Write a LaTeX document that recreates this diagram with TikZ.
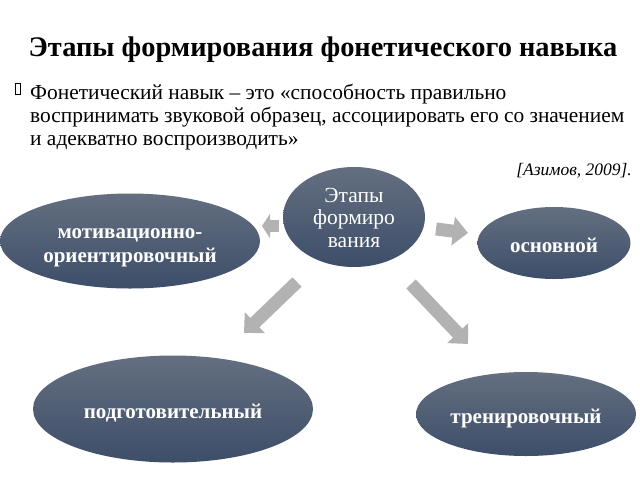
\documentclass[tikz,border=0pt]{standalone}
\usepackage{fontspec}
\setmainfont{Liberation Serif}
\usetikzlibrary{arrows.meta,shapes.geometric}
\definecolor{stTop}{HTML}{646F80}
\definecolor{stBot}{HTML}{3D4E69}
\definecolor{arrowgrey}{HTML}{B2B2B2}
\newcommand{\stagetext}[2][-5pt]{\raisebox{#1}[\height][\depth]{\begin{tabular}{@{}c@{}}#2\end{tabular}}}
\begin{document}
\begin{tikzpicture}[x=1pt,y=-1pt,
  stage/.style={ellipse, top color=stTop, bottom color=stBot, draw=none,
    text=white, font=\bfseries\fontsize{21}{24}\selectfont, inner sep=0pt},
  flow/.style={draw=arrowgrey, line width=13pt, -{Triangle[length=15pt,width=28pt]}},
  bodytext/.style={anchor=base west, inner sep=0pt, font=\fontsize{21.4}{23}\selectfont},
]
\useasboundingbox (0,0) rectangle (640,480);
\fill[white] (0,0) rectangle (640,480);

\node[anchor=base, inner sep=0pt, font=\bfseries\fontsize{28.4}{32}\selectfont] (title) at (323,56)
  {Этапы формирования фонетического навыка};

\node[draw=black, line width=0.5pt, minimum width=5pt, minimum height=11pt, inner sep=0pt] (bullet) at (18,89) {};
\node[bodytext] (l1) at (30,99) {Фонетический навык – это «способность правильно};
\node[bodytext] (l2) at (30,122) {воспринимать звуковой образец, ассоциировать его со значением};
\node[bodytext] (l3) at (30,145) {и адекватно воспроизводить»};
\node[anchor=base east, inner sep=0pt, font=\itshape\fontsize{17.5}{19}\selectfont] (cite) at (632,175) {[Азимов, 2009].};

\node[stage, minimum width=142pt, minimum height=100pt, font=\fontsize{21.5}{22.5}\selectfont] (center) at (354,217) {\stagetext[-3pt]{Этапы\\формиро\\вания}};
\node[stage, minimum width=260pt, minimum height=95pt] (motiv) at (130,241) {\stagetext{мотивационно-\\ориентировочный}};
\node[stage, minimum width=153pt, minimum height=72pt] (main) at (554,243) {\stagetext{основной}};
\node[stage, minimum width=280pt, minimum height=107pt] (prep) at (173,409) {\stagetext{подготовительный}};
\node[stage, minimum width=220pt, minimum height=84pt] (train) at (526,414) {\stagetext{тренировочный}};

\coordinate (aL1) at (279,226); \coordinate (aL2) at (262,226);
\coordinate (aR1) at (436,229); \coordinate (aR2) at (468,233);
\coordinate (aBL1) at (297,282); \coordinate (aBL2) at (244,333);
\coordinate (aBR1) at (411,284); \coordinate (aBR2) at (468,344);
\draw[draw=arrowgrey, line width=12pt, -{Triangle[length=8pt,width=24pt]}] (aL1) -- (aL2);
\draw[flow] (aR1) -- (aR2);
\draw[flow] (aBL1) -- (aBL2);
\draw[flow] (aBR1) -- (aBR2);
\end{tikzpicture}
\end{document}
